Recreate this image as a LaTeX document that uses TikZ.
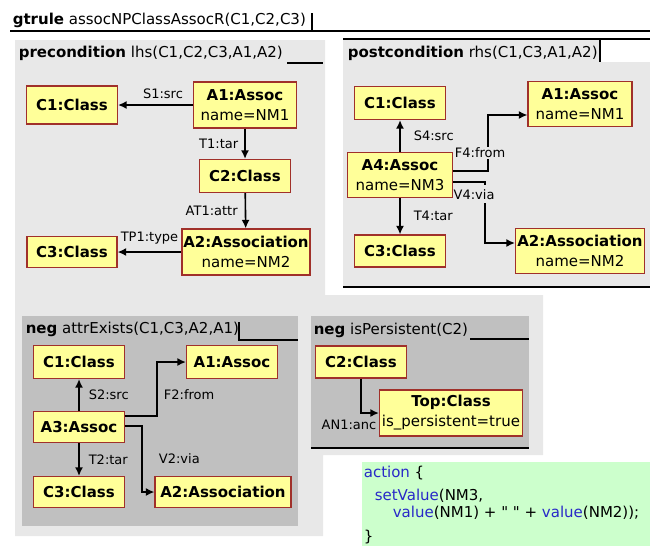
\documentclass[tikz,border=0pt]{standalone}
\usepackage{fontspec}
\setmainfont{DejaVu Sans}
\usepackage{tikz}
\usetikzlibrary{arrows.meta}

\definecolor{lightbg}{HTML}{E8E8E8}
\definecolor{darkbg}{HTML}{C0C0C0}
\definecolor{boxfill}{HTML}{FFFF99}
\definecolor{boxline}{HTML}{A0302A}
\definecolor{actbg}{HTML}{CCFFCC}
\definecolor{keyw}{HTML}{2828C8}

\begin{document}
\begin{tikzpicture}[x=1pt, y=-1pt, >={Latex[length=8.5pt,width=8pt]}, line width=1.6pt,
    main/.style = {draw=boxline, line width=1.2pt, fill=boxfill, inner sep=1pt, minimum height=33,
                   align=center, font=\fontsize{15}{20}\selectfont},
    lbl/.style = {inner sep=1pt, font=\fontsize{13}{15}\selectfont},
    ttl/.style = {anchor=west, inner sep=0pt, font=\fontsize{15}{18}\selectfont}]
\useasboundingbox (0,0) rectangle (650,546);

% frames
\fill[lightbg] (15,40) -- (325,40) -- (325,295) -- (543,295) -- (543,455) -- (323,455)
    -- (323,536) -- (15,536) -- cycle;
\fill[lightbg] (343,39) rectangle (600,62);
\fill[lightbg] (343,62) rectangle (650,287);
\fill[darkbg] (22,316) rectangle (298,526);
\fill[darkbg] (311,316) rectangle (529,448);
\fill[actbg] (362,462) rectangle (650,546);

\begin{scope}[line width=1.3pt]
\draw (10,31) -- (650,31);
\draw (312,13) -- (312,31);
\draw (287,63) -- (323,63);
\draw (343,39) -- (650,39);
\draw (600,39) -- (600,62);
\draw (343,287) -- (650,287);
\draw (239,322) -- (239,340) -- (298,340);
\draw (470,339) -- (529,339);
\draw (311,448) -- (529,448);
\end{scope}

\node[ttl] (gt) at (12,20) {\textbf{gtrule} assocNPClassAssocR(C1,C2,C3)};
\node[ttl] (pre) at (18,53) {\textbf{precondition} lhs(C1,C2,C3,A1,A2)};
\node[ttl] (post) at (347,53) {\textbf{postcondition} rhs(C1,C3,A1,A2)};
\node[ttl] (neg1) at (25,329) {\textbf{neg} attrExists(C1,C3,A2,A1)};
\node[ttl] (neg2) at (313,330) {\textbf{neg} isPersistent(C2)};

% lhs
    \node[main, minimum width=91, minimum height=38] (c1) at (72,105) {\textbf{C1:Class}};
    \node[main, minimum width=103, minimum height=46] (a1) at (245,105) {\textbf{A1:Assoc}\\name=NM1};
    \node[main, minimum width=91] (c2) at (245,176) {\textbf{C2:Class}};
    \node[main, minimum width=128, minimum height=46] (a2) at (246,252) {\textbf{A2:Association}\\name=NM2};
    \node[main, minimum width=90, minimum height=31] (c3) at (72,252) {\textbf{C3:Class}};

\draw[->] (a1) -- (c1) node[lbl, pos=0.4, above=5] {S1:src};
\draw[->] (a1) -- (c2) node[lbl, midway, left=5] {T1:tar};
\draw[->] (c2) -- (a2) node[lbl, midway, left=6] {AT1:attr};
\draw[->] (a2) -- (c3) node[lbl, midway, above=6] {TP1:type};

% rhs
    \node[main, minimum width=91] (pc1) at (400,103) {\textbf{C1:Class}};
    \node[main, minimum width=104, minimum height=45] (pa1) at (580,104) {\textbf{A1:Assoc}\\name=NM1};
    \node[main, minimum width=105, minimum height=45] (a4) at (400,175) {\textbf{A4:Assoc}\\name=NM3};
    \node[main, minimum width=91, minimum height=32] (pc3) at (400,251) {\textbf{C3:Class}};
    \node[main, minimum width=129, minimum height=45] (pa2) at (580,251) {\textbf{A2:Association}\\name=NM2};

\draw[->] (a4) -- (pc1) node[lbl, midway, right=12] {S4:src};
\draw[->] (a4) -- (pc3) node[lbl, midway, right=12] {T4:tar};
\draw[->] ([yshift=4]a4.east) -- ++(35,0) |- node[lbl, fill=lightbg, pos=0.16, xshift=-8] {F4:from}
    ([yshift=-11]pa1.west);
\draw[->] ([yshift=-7]a4.east) -- ++(32,0) |- node[lbl, fill=lightbg, inner ysep=4, pos=0.1, xshift=-11] {V4:via}
    ([yshift=8]pa2.west);

% neg attrExists
    \node[main, minimum width=91] (nc1) at (79,362) {\textbf{C1:Class}};
    \node[main, minimum width=91] (na1) at (232,362) {\textbf{A1:Assoc}};
    \node[main, minimum width=91, minimum height=31] (a3) at (79,427) {\textbf{A3:Assoc}};
    \node[main, minimum width=91, minimum height=31] (nc3) at (79,492) {\textbf{C3:Class}};
    \node[main, minimum width=136, minimum height=31] (na2) at (223,492) {\textbf{A2:Association}};

\draw[->] (a3) -- (nc1) node[lbl, midway, right=8] {S2:src};
\draw[->] (a3) -- (nc3) node[lbl, midway, right=8] {T2:tar};
\draw[->] ([yshift=11]a3.east) -- ++(32,0) |- node[lbl, pos=0.2, right=5] {F2:from} (na1.west);
\draw[->] ([yshift=1]a3.east) -- ++(17,0) |- node[lbl, pos=0.25, right=15] {V2:via} (na2.west);

% neg isPersistent
    \node[main, minimum width=91, minimum height=32] (ic2) at (361,362) {\textbf{C2:Class}};
    \node[main, minimum width=143, minimum height=46] (top) at (451,413) {\textbf{Top:Class}\\is\_persistent=true};

\draw[->] (ic2) |- (top) node[lbl, pos=0.5, below=5, xshift=-12] {AN1:anc};

% action
\begin{scope}[every node/.style={anchor=west, inner sep=0pt, font=\fontsize{15}{18}\selectfont}]
\node (act1) at (363,473) {\textcolor{keyw}{action} \{};
\node (act2) at (374,496) {\textcolor{keyw}{setValue}(NM3,};
\node (act3) at (392,513) {\textcolor{keyw}{value}(NM1) + \textquotedbl\ \textquotedbl\ + \textcolor{keyw}{value}(NM2));};
\node (act4) at (363,537) {\}};
\end{scope}

\end{tikzpicture}
\end{document}
